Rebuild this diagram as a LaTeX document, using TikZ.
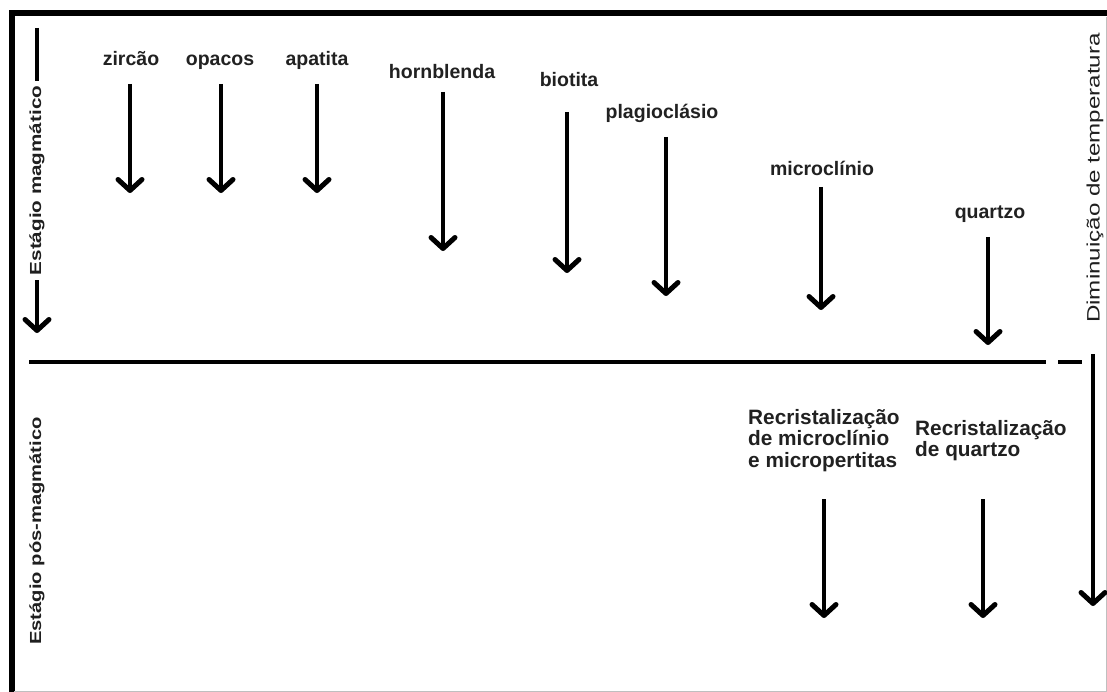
\documentclass[tikz,border=0pt]{standalone}
\usepackage{fontspec}
\setmainfont{Liberation Sans}
\usetikzlibrary{arrows.meta}
\begin{document}
\begin{tikzpicture}[x=1pt,y=-1pt,
  lbl/.style={font=\fontsize{19.5}{21}\selectfont\bfseries, text=black!87, inner sep=0pt, anchor=base},
  reclbl/.style={font=\fontsize{20.8}{21.5}\selectfont\bfseries, text=black!87, inner sep=0pt, align=left, anchor=north west},
  flow/.style={line width=3.5pt, -{Straight Barb[length=11pt,width=24pt,line width=5pt,round]}},
  side/.style={rotate=90, inner sep=0pt, text=black!88},
  framed/.style={line width=6pt, line join=miter},
  divider/.style={line width=3.2pt}
]
\useasboundingbox[fill=white] (0,0) rectangle (1107,692);
% frame
\draw[framed] (11.5,692) -- (11.5,13.5) -- (1107,13.5);
\draw[black!25, line width=1pt] (14,691) -- (1106,691) -- (1106,17);

% mineral labels (anchored at baseline)
\node[lbl] (zircao) at (131,66) {zircão};
\node[lbl] (opacos) at (220,66) {opacos};
\node[lbl] (apatita) at (317,66) {apatita};
\node[lbl] (hornblenda) at (442,79) {hornblenda};
\node[lbl] (biotita) at (569,87) {biotita};
\node[lbl] (plagio) at (662,119) {plagioclásio};
\node[lbl] (microcl) at (822,176) {microclínio};
\node[lbl] (quartzo) at (990,219) {quartzo};

% arrow endpoints
\coordinate (zircao-s) at (130,84);   \coordinate (zircao-e) at (130,193);
\coordinate (opacos-s) at (221,84);   \coordinate (opacos-e) at (221,193);
\coordinate (apatita-s) at (317,84);  \coordinate (apatita-e) at (317,193);
\coordinate (horn-s) at (443,92);     \coordinate (horn-e) at (443,251);
\coordinate (bio-s) at (567,112);     \coordinate (bio-e) at (567,273);
\coordinate (plag-s) at (666,137);    \coordinate (plag-e) at (666,296);
\coordinate (mic-s) at (821,187);     \coordinate (mic-e) at (821,310);
\coordinate (qz-s) at (988,237);      \coordinate (qz-e) at (988,345);

\draw[flow] (zircao-s) -- (zircao-e);
\draw[flow] (opacos-s) -- (opacos-e);
\draw[flow] (apatita-s) -- (apatita-e);
\draw[flow] (horn-s) -- (horn-e);
\draw[flow] (bio-s) -- (bio-e);
\draw[flow] (plag-s) -- (plag-e);
\draw[flow] (mic-s) -- (mic-e);
\draw[flow] (qz-s) -- (qz-e);

% divider
\coordinate (div-l) at (29,362);
\coordinate (div-r) at (1046,362);
\coordinate (dash-l) at (1058,362);
\coordinate (dash-r) at (1082,362);
\draw[divider] (div-l) -- (div-r);
\draw[divider] (dash-l) -- (dash-r);

% left stage arrow with label
\coordinate (mag-top) at (37,28);
\coordinate (mag-bot) at (37,333);
\draw[flow] (mag-top) -- node[side, fill=white, inner xsep=5pt, pos=0.5, font=\fontsize{16}{18}\selectfont\bfseries] (magtxt) {\scalebox{1.29}[1]{Estágio magmático}} (mag-bot);

\node[side, font=\fontsize{16}{18}\selectfont\bfseries] (posmag) at (37,531) {\scalebox{1.26}[1]{Estágio pós-magmático}};

% right temperature label and arrow
\node[side, font=\fontsize{18}{20}\selectfont] (temp) at (1095,178) {\scalebox{1.34}[1]{Diminuição de temperatura}};
\coordinate (temp-s) at (1093,354);
\coordinate (temp-e) at (1093,606);
\draw[flow] (temp-s) -- (temp-e);

% post-magmatic labels
\node[reclbl] (recmic) at (748,409) {Recristalização\\de microclínio\\e micropertitas};
\node[reclbl] (recqz) at (915,420) {Recristalização\\de quartzo};

\coordinate (rm-s) at (824,499); \coordinate (rm-e) at (824,618);
\coordinate (rq-s) at (983,499); \coordinate (rq-e) at (983,618);
\draw[flow] (rm-s) -- (rm-e);
\draw[flow] (rq-s) -- (rq-e);
\end{tikzpicture}
\end{document}
